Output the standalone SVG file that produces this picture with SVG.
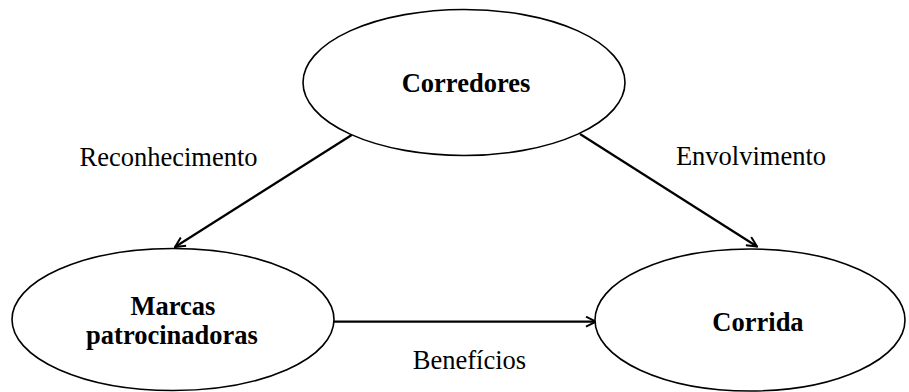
<svg xmlns="http://www.w3.org/2000/svg" width="909" height="392" viewBox="0 0 909 392">
  <style>
    .node ellipse { fill: #ffffff; stroke: #000000; stroke-width: 1.6; }
    .name { font-family: "Liberation Serif", "Times New Roman", serif; font-size: 26.5px; font-weight: bold; fill: #000000; text-anchor: middle; }
    .label { font-family: "Liberation Serif", "Times New Roman", serif; font-size: 26.5px; fill: #000000; text-anchor: middle; }
    .edge { stroke: #000000; stroke-width: 2.2; fill: none; marker-end: url(#arrow); }
  </style>
  <defs>
    <marker id="arrow" viewBox="0 0 12 12" refX="11" refY="6" markerWidth="12" markerHeight="12" markerUnits="userSpaceOnUse" orient="auto">
      <path d="M1,1 L11,6 L1,11" fill="none" stroke="#000000" stroke-width="2"/>
    </marker>
  </defs>
  <rect width="909" height="392" fill="#ffffff"/>

  <g id="connectors">
    <line class="edge" x1="351.7" y1="135" x2="175" y2="247"/>
    <line class="edge" x1="580" y1="134" x2="757" y2="246.5"/>
    <line class="edge" x1="334" y1="321.7" x2="596" y2="321.7"/>
    <text class="label" x="168.5" y="166">Reconhecimento</text>
    <text class="label" x="751" y="164.5">Envolvimento</text>
    <text class="label" x="469.5" y="369">Benefícios</text>
  </g>

  <g id="corredores" class="node">
    <ellipse cx="464" cy="82.5" rx="161" ry="73"/>
    <text class="name" x="466" y="92">Corredores</text>
  </g>

  <g id="marcas" class="node">
    <ellipse cx="173" cy="319.5" rx="161" ry="71"/>
    <text class="name" x="173" y="315">Marcas</text>
    <text class="name" x="172" y="344">patrocinadoras</text>
  </g>

  <g id="corrida" class="node">
    <ellipse cx="750" cy="320" rx="155" ry="71"/>
    <text class="name" x="758" y="331">Corrida</text>
  </g>
</svg>
